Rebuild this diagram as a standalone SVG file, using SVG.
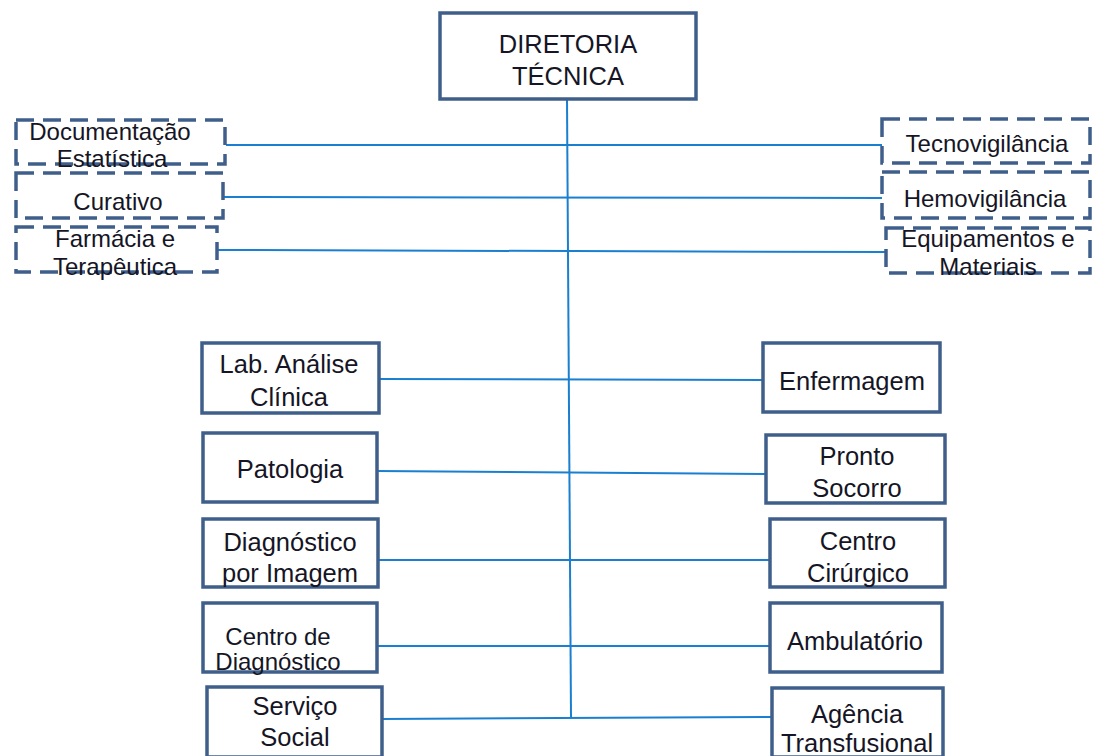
<svg xmlns="http://www.w3.org/2000/svg" width="1093" height="756" viewBox="0 0 1093 756">
<style>
.box{fill:#fff;stroke:#3f5f8a;stroke-width:3.5}
.dash{fill:none;stroke:#3f5f8a;stroke-width:3.5;stroke-dasharray:18 9}
.t{font-family:"Liberation Sans",Arial,sans-serif;font-size:25.5px;fill:#151525;text-anchor:middle}
.td{font-family:"Liberation Sans",Arial,sans-serif;font-size:24px;fill:#151525;text-anchor:middle}
.c{stroke:#1a7fd0;stroke-width:2;fill:none}
</style>
<rect width="1093" height="756" fill="#fff"/>
<g id="connectors">
<line class="c" x1="567" y1="99" x2="571" y2="718"/>
<line class="c" x1="226" y1="145" x2="882" y2="145"/>
<line class="c" x1="223" y1="197" x2="882" y2="198"/>
<line class="c" x1="218" y1="250" x2="885" y2="252"/>
<line class="c" x1="379" y1="379" x2="763" y2="380"/>
<line class="c" x1="377" y1="471" x2="766" y2="474"/>
<line class="c" x1="378" y1="560" x2="770" y2="560"/>
<line class="c" x1="377" y1="646" x2="770" y2="646"/>
<line class="c" x1="382" y1="719" x2="772" y2="717"/>
</g>
<g id="diretoria"><rect class="box" x="440" y="13" width="256" height="86"/><text class="t" x="568" y="53">DIRETORIA</text><text class="t" x="568" y="85">TÉCNICA</text></g>
<g id="documentacao"><rect class="dash" x="16" y="120" width="209" height="44"/><text class="td" x="110" y="140">Documentação</text><text class="td" x="112" y="167">Estatística</text></g>
<g id="curativo"><rect class="dash" x="16" y="173" width="207" height="45"/><text class="td" x="118" y="210">Curativo</text></g>
<g id="farmacia"><rect class="dash" x="16" y="227" width="201" height="45"/><text class="td" x="115" y="247">Farmácia e</text><text class="td" x="115" y="275">Terapêutica</text></g>
<g id="tecnovigilancia"><rect class="dash" x="882" y="119" width="208" height="44"/><text class="td" x="987" y="152">Tecnovigilância</text></g>
<g id="hemovigilancia"><rect class="dash" x="882" y="172" width="208" height="46"/><text class="td" x="985" y="207">Hemovigilância</text></g>
<g id="equipamentos"><rect class="dash" x="886" y="228" width="204" height="45"/><text class="td" x="988" y="247">Equipamentos e</text><text class="td" x="988" y="275">Materiais</text></g>
<g id="lab"><rect class="box" x="202" y="343" width="177" height="70"/><text class="t" x="289" y="373">Lab. Análise</text><text class="t" x="289" y="406">Clínica</text></g>
<g id="patologia"><rect class="box" x="203" y="433" width="174" height="69"/><text class="t" x="290" y="478">Patologia</text></g>
<g id="diagnostico"><rect class="box" x="203" y="519" width="175" height="68"/><text class="t" x="290" y="551">Diagnóstico</text><text class="t" x="290" y="582">por Imagem</text></g>
<g id="centro-diagnostico"><rect class="box" x="203" y="603" width="174" height="69"/><text class="td" x="278" y="645">Centro de</text><text class="td" x="278" y="670">Diagnóstico</text></g>
<g id="servico-social"><rect class="box" x="207" y="687" width="175" height="70"/><text class="t" x="295" y="715">Serviço</text><text class="t" x="295" y="746">Social</text></g>
<g id="enfermagem"><rect class="box" x="763" y="343" width="177" height="69"/><text class="t" x="852" y="390">Enfermagem</text></g>
<g id="pronto-socorro"><rect class="box" x="766" y="435" width="179" height="68"/><text class="t" x="857" y="465">Pronto</text><text class="t" x="857" y="497">Socorro</text></g>
<g id="centro-cirurgico"><rect class="box" x="770" y="519" width="175" height="68"/><text class="t" x="858" y="550">Centro</text><text class="t" x="858" y="582">Cirúrgico</text></g>
<g id="ambulatorio"><rect class="box" x="770" y="603" width="172" height="69"/><text class="t" x="855" y="650">Ambulatório</text></g>
<g id="agencia"><rect class="box" x="772" y="688" width="171" height="69"/><text class="t" x="857" y="723">Agência</text><text class="t" x="857" y="752">Transfusional</text></g>
</svg>
